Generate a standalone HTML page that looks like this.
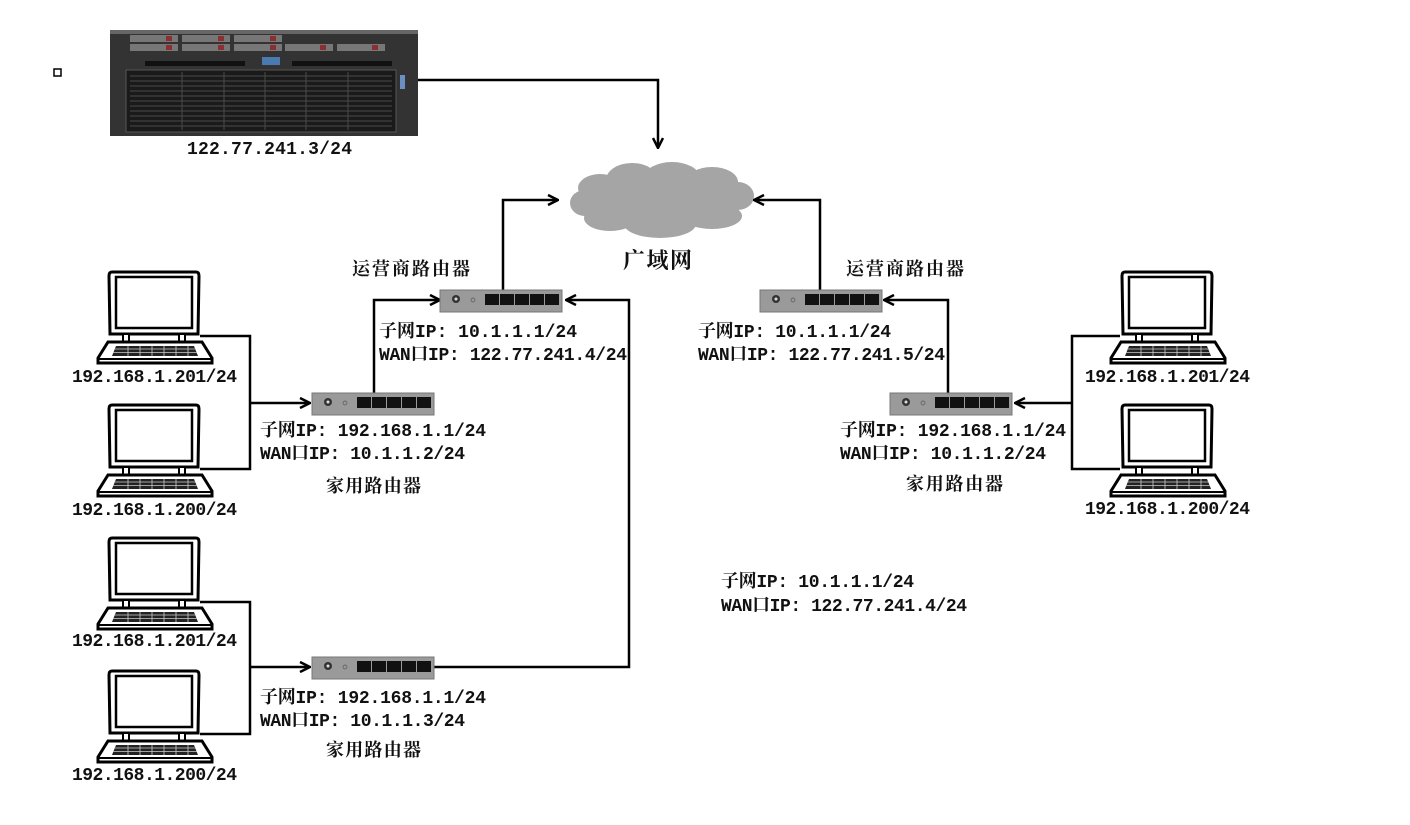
<!DOCTYPE html>
<html><head><meta charset="utf-8"><style>
html,body{margin:0;padding:0;background:#fff;width:1410px;height:825px;overflow:hidden}
svg text{font-family:"Liberation Mono","Noto Serif CJK SC","Noto Sans CJK SC",monospace;font-weight:bold;font-size:18px;fill:#111}
</style></head><body>
<svg width="1410" height="825" viewBox="0 0 1410 825" xmlns="http://www.w3.org/2000/svg">
<defs>
<marker id="ar" viewBox="0 0 12 12" refX="11" refY="6" markerWidth="12" markerHeight="12" markerUnits="userSpaceOnUse" orient="auto">
<path d="M1,1 L11,6 L1,11" fill="none" stroke="#000" stroke-width="2.5"/>
</marker>
<g id="lap">
<path d="M14,0 L98,0 Q101,0 101,4 L100,62 L12,62 L11,4 Q11,0 14,0Z" fill="#fff" stroke="#000" stroke-width="3"/>
<rect x="18" y="5" width="76" height="51" fill="#fff" stroke="#000" stroke-width="2.5"/>
<rect x="25" y="62" width="6" height="8" fill="#fff" stroke="#000" stroke-width="2"/>
<rect x="81" y="62" width="6" height="8" fill="#fff" stroke="#000" stroke-width="2"/>
<path d="M10,70 L104,70 L114,86 L114,91 L0,91 L0,86Z" fill="#fff" stroke="#000" stroke-width="3"/>
<path d="M18,74 L96,74 L100,84 L14,84Z" fill="#222"/>
<path d="M16,77 H98 M15,80.5 H99 M30,74 V84 M42,74 V84 M54,74 V84 M66,74 V84 M78,74 V84 M90,74 V84" stroke="#ccc" stroke-width="0.8"/>
<line x1="0" y1="87" x2="114" y2="87" stroke="#000" stroke-width="2"/>
</g>
<g id="rt">
<rect x="0" y="0" width="122" height="22" fill="#9a9a9a" stroke="#777"/>
<circle cx="16" cy="9" r="4" fill="#333"/><circle cx="16" cy="9" r="1.5" fill="#ddd"/>
<circle cx="33" cy="10" r="2" fill="none" stroke="#555" stroke-width="0.7"/>
<rect x="45" y="4" width="14" height="11" fill="#111"/>
<rect x="60" y="4" width="14" height="11" fill="#111"/>
<rect x="75" y="4" width="14" height="11" fill="#111"/>
<rect x="90" y="4" width="14" height="11" fill="#111"/>
<rect x="105" y="4" width="14" height="11" fill="#111"/>
</g>
</defs>
<rect x="54" y="69" width="7" height="7" fill="none" stroke="#000" stroke-width="1.5"/>

<!-- server -->
<rect x="110" y="30" width="308" height="106" fill="#333"/>
<rect x="110" y="30" width="308" height="4" fill="#666"/>
<g fill="#777">
<rect x="130" y="35" width="48" height="7"/><rect x="182" y="35" width="48" height="7"/><rect x="234" y="35" width="48" height="7"/>
<rect x="130" y="44" width="48" height="7"/><rect x="182" y="44" width="48" height="7"/><rect x="234" y="44" width="48" height="7"/>
<rect x="285" y="44" width="48" height="7"/><rect x="337" y="44" width="48" height="7"/>
</g>
<g fill="#8a3030">
<rect x="166" y="36" width="6" height="5"/><rect x="218" y="36" width="6" height="5"/><rect x="270" y="36" width="6" height="5"/>
<rect x="166" y="45" width="6" height="5"/><rect x="218" y="45" width="6" height="5"/><rect x="270" y="45" width="6" height="5"/>
<rect x="320" y="45" width="6" height="5"/><rect x="372" y="45" width="6" height="5"/>
</g>
<rect x="262" y="57" width="18" height="8" fill="#4a7ab0"/>
<rect x="145" y="61" width="100" height="5" fill="#111"/><rect x="292" y="61" width="100" height="5" fill="#111"/>
<rect x="126" y="70" width="270" height="62" fill="#1a1a1a" stroke="#555"/>
<g stroke="#4a4a4a" stroke-width="1">
<path d="M130,76H392M130,81H392M130,86H392M130,91H392M130,96H392M130,101H392M130,106H392M130,111H392M130,116H392M130,121H392M130,126H392"/>
<path d="M182,72V130M224,72V130M265,72V130M306,72V130M348,72V130"/>
</g>
<rect x="400" y="75" width="5" height="14" fill="#6a8fc0"/>
<text x="187" y="154" textLength="165">122.77.241.3/24</text>

<!-- cloud -->
<g fill="#a5a5a5">
<ellipse cx="662" cy="200" rx="88" ry="20"/>
<ellipse cx="600" cy="188" rx="22" ry="14"/>
<ellipse cx="632" cy="180" rx="26" ry="17"/>
<ellipse cx="672" cy="178" rx="28" ry="16"/>
<ellipse cx="712" cy="182" rx="26" ry="15"/>
<ellipse cx="738" cy="196" rx="16" ry="14"/>
<ellipse cx="585" cy="203" rx="15" ry="13"/>
<ellipse cx="610" cy="218" rx="26" ry="13"/>
<ellipse cx="660" cy="224" rx="36" ry="14"/>
<ellipse cx="712" cy="216" rx="30" ry="13"/>
</g>
<text x="623" y="268" textLength="69" style="font-size:22px">广域网</text>

<!-- connectors -->
<g fill="none" stroke="#000" stroke-width="2.5">
<path d="M418,80 H658 V148" marker-end="url(#ar)"/>
<path d="M503,290 V200 H558" marker-end="url(#ar)"/>
<path d="M374,393 V300 H440" marker-end="url(#ar)"/>
<path d="M200,336 H250 V469 H200"/>
<path d="M250,403 H310" marker-end="url(#ar)"/>
<path d="M200,602 H250 V734 H200"/>
<path d="M250,667 H310" marker-end="url(#ar)"/>
<path d="M434,667 H629 V300 H566" marker-end="url(#ar)"/>
<path d="M820,290 V200 H754" marker-end="url(#ar)"/>
<path d="M948,393 V300 H884" marker-end="url(#ar)"/>
<path d="M1120,336 H1072 V469 H1120"/>
<path d="M1072,403 H1015" marker-end="url(#ar)"/>
</g>

<use href="#rt" x="440" y="290"/>
<use href="#rt" x="760" y="290"/>
<use href="#rt" x="312" y="393"/>
<use href="#rt" x="890" y="393"/>
<use href="#rt" x="312" y="657"/>

<use href="#lap" x="98" y="272"/>
<use href="#lap" x="98" y="405"/>
<use href="#lap" x="98" y="538"/>
<use href="#lap" x="98" y="671"/>
<use href="#lap" x="1111" y="272"/>
<use href="#lap" x="1111" y="405"/>

<text x="352" y="275" textLength="118">运营商路由器</text>
<text x="846" y="275" textLength="118">运营商路由器</text>
<text x="379" y="337" textLength="198">子网IP: 10.1.1.1/24</text>
<text x="379" y="360" textLength="248">WAN口IP: 122.77.241.4/24</text>
<text x="698" y="337" textLength="193">子网IP: 10.1.1.1/24</text>
<text x="698" y="360" textLength="247">WAN口IP: 122.77.241.5/24</text>

<text x="72" y="382" textLength="165">192.168.1.201/24</text>
<text x="72" y="515" textLength="165">192.168.1.200/24</text>
<text x="1085" y="382" textLength="165">192.168.1.201/24</text>
<text x="1085" y="514" textLength="165">192.168.1.200/24</text>
<text x="72" y="646" textLength="165">192.168.1.201/24</text>
<text x="72" y="780" textLength="165">192.168.1.200/24</text>

<text x="260" y="436" textLength="226">子网IP: 192.168.1.1/24</text>
<text x="260" y="459" textLength="205">WAN口IP: 10.1.1.2/24</text>
<text x="326" y="492" textLength="95">家用路由器</text>
<text x="840" y="436" textLength="226">子网IP: 192.168.1.1/24</text>
<text x="840" y="459" textLength="206">WAN口IP: 10.1.1.2/24</text>
<text x="906" y="490" textLength="97">家用路由器</text>
<text x="260" y="703" textLength="226">子网IP: 192.168.1.1/24</text>
<text x="260" y="726" textLength="205">WAN口IP: 10.1.1.3/24</text>
<text x="326" y="756" textLength="95">家用路由器</text>

<text x="721" y="587" textLength="193">子网IP: 10.1.1.1/24</text>
<text x="721" y="611" textLength="246">WAN口IP: 122.77.241.4/24</text>
</svg>
</body></html>
